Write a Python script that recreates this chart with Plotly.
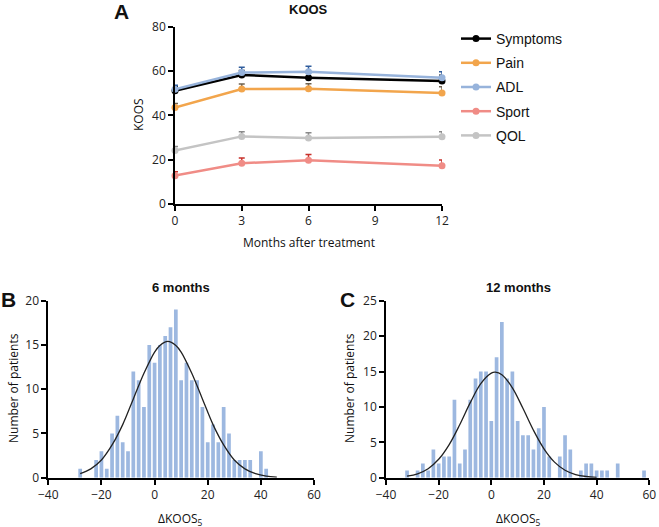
import plotly.graph_objects as go

# ---------------- Panel A data ----------------
months = [0, 3, 6, 12]
series_names = ["Symptoms", "Pain", "ADL", "Sport", "QOL"]
symptoms = [51.1, 58.2, 57.0, 55.5]
pain = [43.5, 51.9, 52.0, 50.1]
adl = [51.8, 59.3, 59.7, 57.0]
sport = [12.8, 18.4, 19.7, 17.3]
qol = [24.1, 30.5, 29.8, 30.4]
symptoms_err = [1.8, 2.0, 2.3, 2.6]
pain_err = [1.9, 2.3, 2.3, 2.8]
adl_err = [1.8, 2.4, 2.4, 2.7]
sport_err = [1.8, 2.4, 2.6, 2.6]
qol_err = [1.8, 2.1, 2.4, 2.2]

# ---------------- Panel B data (6 months) ----------------
bins_b = [-28, -26, -24, -22, -20, -18, -16, -14, -12, -10, -8, -6, -4, -2, 0, 2, 4, 6, 8, 10,
          12, 14, 16, 18, 20, 22, 24, 26, 28, 30, 32, 34, 36, 38, 40, 42, 44, 46, 48, 50,
          52, 54, 56, 58]
counts_b = [1, 0, 0, 2, 3, 1, 5, 7, 4, 3, 12, 11, 8, 15, 13, 15, 16, 17, 19, 11,
            13, 11, 11, 8, 4, 6, 4, 8, 5, 2, 2, 2, 2, 0, 3, 1, 0, 0, 0, 0,
            0, 0, 0, 0]
curve_b_x = [-28, -24, -20, -16, -12, -8, -4, 0, 2, 5, 8, 10, 14, 18, 22, 26, 30, 34, 38, 42, 46]
curve_b_y = [0.45, 1.0, 2.0, 3.7, 6.0, 8.9, 11.8, 14.2, 14.95, 15.4, 14.95, 14.2, 11.8, 8.9,
             6.0, 3.7, 2.0, 1.0, 0.45, 0.18, 0.07]

# ---------------- Panel C data (12 months) ----------------
bins_c = [-32, -30, -28, -26, -24, -22, -20, -18, -16, -14, -12, -10, -8, -6, -4, -2, 0, 2, 4, 6,
          8, 10, 12, 14, 16, 18, 20, 22, 24, 26, 28, 30, 32, 34, 36, 38, 40, 42, 44, 46,
          48, 50, 52, 54, 56, 58]
counts_c = [1, 0, 1, 2, 1, 4, 2, 3, 3, 11, 2, 4, 11, 14, 15, 15, 8, 17, 22, 14,
            15, 8, 6, 6, 4, 7, 10, 3, 0, 3, 6, 4, 0, 1, 2, 2, 1, 1, 1, 0,
            2, 0, 0, 0, 0, 1]
curve_c_x = [-32, -28, -24, -20, -16, -12, -8, -4, 0, 1.5, 4, 8, 12, 16, 20, 24, 28, 32, 36, 40]
curve_c_y = [0.21, 0.55, 1.27, 2.6, 4.68, 7.48, 10.6, 13.3, 14.77, 14.9, 14.55, 12.7, 9.8, 6.7,
             4.08, 2.2, 1.05, 0.44, 0.17, 0.06]

line_colors = ["#000000", "#F2A54C", "#97B3DB", "#F08C86", "#C4C4C4"]
err_colors = ["#000000", "#6E6250", "#2F5C9C", "#C8312B", "#8A8A8A"]
bar_color = "#9DB8E0"

W, H = 659, 527
def px(x):
    return x / W
def py(y):
    return 1 - y / H

fig = go.Figure()

values = [symptoms, pain, adl, sport, qol]
errs = [symptoms_err, pain_err, adl_err, sport_err, qol_err]
for name, vals, err, lc, ec in zip(series_names, values, errs, line_colors, err_colors):
    fig.add_trace(go.Scatter(
        x=months, y=vals, name=name, mode="lines+markers",
        line=dict(color=lc, width=2.5),
        marker=dict(color=lc, size=7, symbol="circle"),
        error_y=dict(type="data", array=err, arrayminus=[0] * len(err), symmetric=False,
                     color=ec, thickness=1.5, width=3),
        cliponaxis=False, legendgroup=name,
        xaxis="x", yaxis="y",
    ))

fig.add_trace(go.Bar(x=bins_b, y=counts_b, width=1.4, marker=dict(color=bar_color, line=dict(width=0)),
                     showlegend=False, xaxis="x2", yaxis="y2"))
fig.add_trace(go.Scatter(x=curve_b_x, y=curve_b_y, mode="lines", line=dict(color="#222222", width=1.3, shape="spline"),
                         showlegend=False, xaxis="x2", yaxis="y2"))
fig.add_trace(go.Bar(x=bins_c, y=counts_c, width=1.4, marker=dict(color=bar_color, line=dict(width=0)),
                     showlegend=False, xaxis="x3", yaxis="y3"))
fig.add_trace(go.Scatter(x=curve_c_x, y=curve_c_y, mode="lines", line=dict(color="#222222", width=1.3, shape="spline"),
                         showlegend=False, xaxis="x3", yaxis="y3"))

tick_font = dict(family="Open Sans, Arial, sans-serif", size=12, color="#222222")
axis_common = dict(showline=True, linecolor="#000000", linewidth=1.7, ticks="outside",
                   ticklen=5, tickwidth=1.7, tickcolor="#000000", showgrid=False,
                   zeroline=False, tickfont=tick_font, automargin=False)

fig.update_layout(
    template="none",
    width=W, height=H, margin=dict(l=0, r=0, t=0, b=0, pad=0),
    paper_bgcolor="white", plot_bgcolor="white",
    bargap=0.3,
    xaxis=dict(domain=[px(175), px(442)], range=[0, 12], tickvals=[0, 3, 6, 9, 12],
               anchor="y", **axis_common),
    yaxis=dict(domain=[py(204), py(26.7)], range=[0, 80], tickvals=[0, 20, 40, 60, 80],
               anchor="x", **axis_common),
    xaxis2=dict(domain=[px(48.3), px(314)], range=[-40, 60], tickvals=[-40, -20, 0, 20, 40, 60],
                anchor="y2", **axis_common),
    yaxis2=dict(domain=[py(477.7), py(300.7)], range=[0, 20], tickvals=[0, 5, 10, 15, 20],
                anchor="x2", **axis_common),
    xaxis3=dict(domain=[px(386), px(649.3)], range=[-40, 60], tickvals=[-40, -20, 0, 20, 40, 60],
                anchor="y3", **axis_common),
    yaxis3=dict(domain=[py(477.7), py(300.7)], range=[0, 25], tickvals=[0, 5, 10, 15, 20, 25],
                anchor="x3", **axis_common),
    legend=dict(x=px(456), y=py(23), xanchor="left", yanchor="top",
                font=dict(family="Liberation Sans, Arial, sans-serif", size=14, color="#111111"),
                tracegroupgap=3, bgcolor="rgba(0,0,0,0)", borderwidth=0, itemwidth=30),
    showlegend=True,
)

bold_font = "Liberation Sans, Arial, sans-serif"
text_font = "Open Sans, Arial, sans-serif"
annotations = [
    # panel letters and titles
    dict(text="<b>A</b>", x=121, y=11, size=21, fam=bold_font, rot=0),
    dict(text="<b>B</b>", x=8, y=299, size=21, fam=bold_font, rot=0),
    dict(text="<b>C</b>", x=347, y=299, size=21, fam=bold_font, rot=0),
    dict(text="<b>KOOS</b>", x=308.5, y=10, size=13, fam=bold_font, rot=0),
    dict(text="<b>6 months</b>", x=181, y=287, size=13, fam=bold_font, rot=0),
    dict(text="<b>12 months</b>", x=518, y=287, size=13, fam=bold_font, rot=0),
    # axis titles
    dict(text="Months after treatment", x=308.5, y=242, size=12, fam=text_font, rot=0),
    dict(text="KOOS", x=138, y=115, size=12, fam=text_font, rot=-90),
    dict(text="Number of patients", x=13, y=388, size=12, fam=text_font, rot=-90),
    dict(text="Number of patients", x=349, y=388, size=12, fam=text_font, rot=-90),
    dict(text="ΔKOOS<sub>5</sub>", x=181, y=519, size=12, fam=text_font, rot=0),
    dict(text="ΔKOOS<sub>5</sub>", x=518, y=519, size=12, fam=text_font, rot=0),
]
for a in annotations:
    fig.add_annotation(text=a["text"], x=px(a["x"]), y=py(a["y"]), xref="paper", yref="paper",
                       xanchor="center", yanchor="middle", showarrow=False, textangle=a["rot"],
                       font=dict(size=a["size"], family=a["fam"], color="#111111"))

fig.write_html("out.html", config={"displayModeBar": False},
               post_script="document.body.style.margin='0';document.body.style.overflow='hidden';")
